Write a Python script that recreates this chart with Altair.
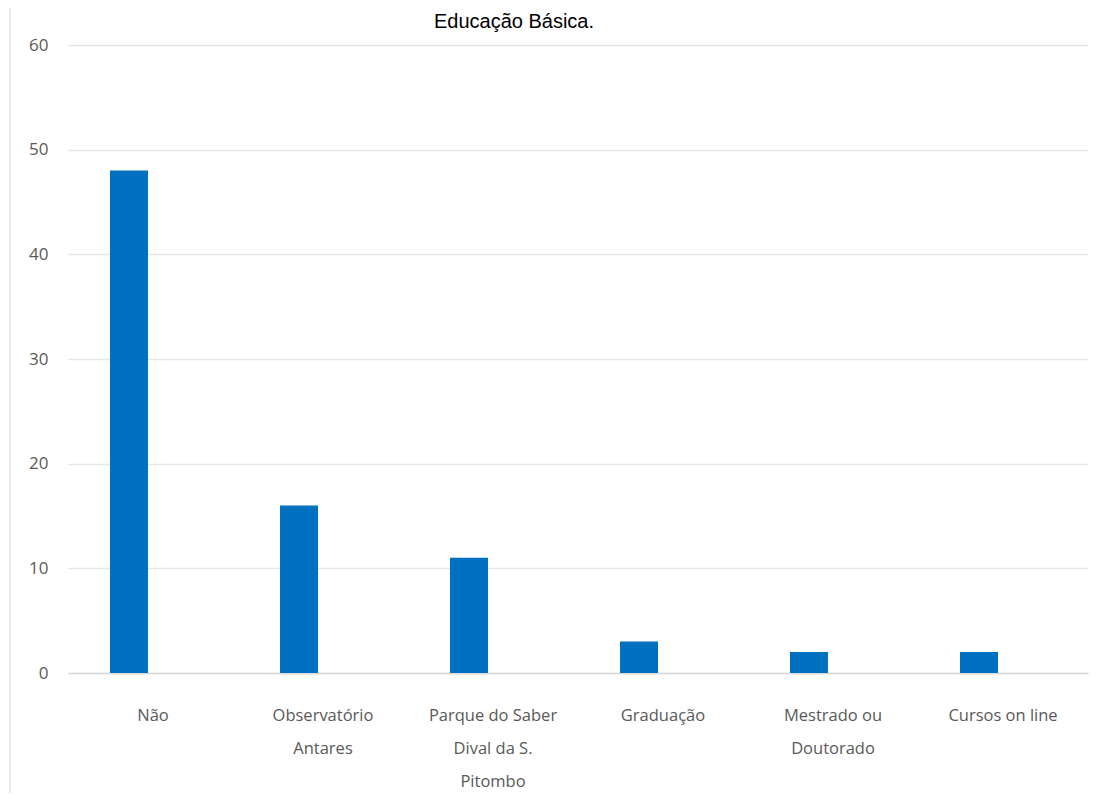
import altair as alt
import pandas as pd

categories = ["Não", "Observatório Antares", "Parque do Saber Dival da S. Pitombo",
              "Graduação", "Mestrado ou Doutorado", "Cursos on line"]
values = [48, 16, 11, 3, 2, 2]
tick_lines = [["Não"], ["Observatório", "Antares"], ["Parque do Saber", "Dival da S.", "Pitombo"],
              ["Graduação"], ["Mestrado ou", "Doutorado"], ["Cursos on line"]]
title_text = "Educação Básica."

df = pd.DataFrame({"cat": categories, "val": values})

label_map = "{" + ", ".join(
    "'" + c + "': [" + ", ".join("'" + l + "'" for l in lines) + "]"
    for c, lines in zip(categories, tick_lines)
) + "}"

FONT = "Open Sans, sans-serif"

base = alt.Chart(df)

bars = base.mark_bar(color="#0070C0", width=38, xOffset=-24).encode(
    x=alt.X("cat:N", sort=categories, title=None,
            scale=alt.Scale(paddingInner=0, paddingOuter=0),
            axis=alt.Axis(labelAngle=0, labelExpr=label_map + "[datum.label]",
                          labelFont=FONT, labelFontSize=16.5, labelColor="#595959",
                          labelPadding=42, labelLineHeight=33, ticks=False, grid=False,
                          domainColor="#d9d9d9", domainWidth=1.5, labelBaseline="middle")),
    y=alt.Y("val:Q", title=None,
            scale=alt.Scale(domain=[0, 60]),
            axis=alt.Axis(values=[0, 10, 20, 30, 40, 50, 60], ticks=False, domain=False,
                          gridColor="#e6e6e6", gridWidth=1.5,
                          labelFont=FONT, labelFontSize=17, labelColor="#595959",
                          labelPadding=20)),
)

title = alt.Chart(pd.DataFrame({"t": [title_text]})).mark_text(
    font="Liberation Sans", fontSize=20, color="#000000", align="center", baseline="alphabetic"
).encode(text="t:N", x=alt.value(446), y=alt.value(-17))

border = alt.Chart(pd.DataFrame({"a": [0]})).mark_rule(color="#e0e0e0", strokeWidth=1.5).encode(
    x=alt.value(-58), y=alt.value(-40), y2=alt.value(760)
)

chart = alt.layer(bars, title, border).properties(
    width=1020, height=628,
    autosize=alt.AutoSizeParams(type="none"),
    padding={"left": 60, "top": 37, "right": 5, "bottom": 120},
).configure(background="white").configure_view(stroke=None, strokeWidth=0)

chart.save("out.html", embed_options={"renderer": "svg", "actions": False})
